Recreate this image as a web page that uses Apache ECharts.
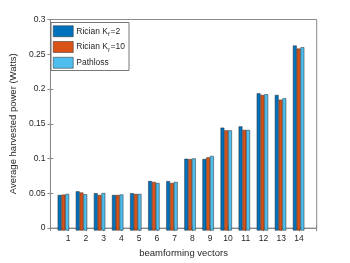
<!DOCTYPE html>
<html><head><meta charset="utf-8">
<script src="https://cdn.jsdelivr.net/npm/echarts@6/dist/echarts.min.js"></script>
<style>html,body{margin:0;padding:0;background:#fff}#c{width:350px;height:263px}</style>
</head><body><div id="c"></div>
<script>
var categories = ['1','2','3','4','5','6','7','8','9','10','11','12','13','14'];
var ricianK2  = [0.0505,0.0557,0.0530,0.0505,0.0530,0.0704,0.0702,0.1020,0.1017,0.1462,0.1480,0.1950,0.1927,0.2630];
var ricianK10 = [0.0510,0.0540,0.0505,0.0505,0.0520,0.0690,0.0675,0.1015,0.1040,0.1424,0.1430,0.1927,0.1860,0.2586];
var pathloss  = [0.0520,0.0515,0.0533,0.0512,0.0520,0.0675,0.0690,0.1025,0.1060,0.1424,0.1430,0.1937,0.1880,0.2605];
var yTicks = [0,0.05,0.1,0.15,0.2,0.25,0.3];

var font = 'Liberation Sans, Arial, Helvetica, sans-serif';
var axisCol = '#8a8a8a';
var txtCol = '#262626';
var chart = echarts.init(document.getElementById('c'), null, {renderer:'canvas'});
var gl = 45.3, gr = 350-316.7, gt = 19.5, gb = 263-230.5;
var band = (316.7-45.3)/15;
function barSeries(name, data, color){
  return {type:'bar', name:name, data:data, xAxisIndex:0, yAxisIndex:0,
    barWidth:3.8, barGap:'0%',
    itemStyle:{color:color, borderColor:'#2a2a2a', borderWidth:0.5},
    emphasis:{disabled:true}, animation:false};
}
var lbl = {a:{fontSize:8.5, color:txtCol, fontFamily:font, lineHeight:12}, s:{fontSize:6, color:txtCol, fontFamily:font, verticalAlign:'bottom', lineHeight:9, padding:[0,1,0,0]}};
chart.setOption({
  animation:false,
  textStyle:{fontFamily:font},
  legend:{show:true, orient:'vertical', left:51, top:22.5, itemWidth:20, itemHeight:11, itemGap:4,
    padding:[3,4,2,2], borderColor:'#555', borderWidth:0.8, backgroundColor:'#fff',
    icon:'rect',
    itemStyle:{borderColor:'#2a2a2a', borderWidth:0.5},
    textStyle:{fontSize:8.5, color:txtCol, fontFamily:font, padding:[0,0,0,-2], rich:lbl},
    formatter:function(n){
      if(n==='Rician K_f=2') return '{a|Rician K}{s|f}{a|=2}';
      if(n==='Rician K_f=10') return '{a|Rician K}{s|f}{a|=10}';
      return '{a|'+n+'}';
    },
    data:['Rician K_f=2','Rician K_f=10','Pathloss']},
  grid:[
    {left:gl+band/2, right:gr+band/2, top:gt, bottom:gb, containLabel:false},
    {left:gl, right:gr, top:gt, bottom:gb, show:true, borderColor:axisCol, borderWidth:1, containLabel:false}
  ],
  xAxis:[
    {type:'category', gridIndex:0, data:categories, boundaryGap:true, show:false},
    {type:'value', gridIndex:1, min:0, max:15, interval:1, position:'bottom',
      axisLine:{show:true, lineStyle:{color:axisCol}}, splitLine:{show:false},
      axisTick:{show:true, inside:true, length:3, lineStyle:{color:axisCol}},
      axisLabel:{show:true, margin:6, fontSize:8.5, color:txtCol, fontFamily:font,
        formatter:function(v){ return (v>=1 && v<=categories.length) ? categories[v-1] : ''; }},
      name:'beamforming vectors', nameLocation:'middle', nameGap:18,
      nameTextStyle:{fontSize:9.5, color:txtCol, fontFamily:font}},
    {type:'value', gridIndex:1, min:0, max:15, interval:1, position:'top',
      axisLine:{show:true, lineStyle:{color:axisCol}}, splitLine:{show:false},
      axisTick:{show:true, inside:true, length:3, lineStyle:{color:axisCol}},
      axisLabel:{show:false}}
  ],
  yAxis:[
    {type:'value', gridIndex:0, min:0, max:0.3, interval:0.05, show:false},
    {type:'value', gridIndex:1, min:0, max:0.3, interval:0.05, position:'left',
      axisLine:{show:true, lineStyle:{color:axisCol}}, splitLine:{show:false},
      axisTick:{show:true, inside:true, length:3, lineStyle:{color:axisCol}},
      axisLabel:{show:true, margin:5, fontSize:8.5, color:txtCol, fontFamily:font,
        formatter:function(v){ var i=yTicks.findIndex(function(t){return Math.abs(t-v)<1e-9;}); return i>=0? String(yTicks[i]):''; }},
      name:'Average harvested power (Watts)', nameLocation:'middle', nameGap:28,
      nameTextStyle:{fontSize:9.5, color:txtCol, fontFamily:font}},
    {type:'value', gridIndex:1, min:0, max:0.3, interval:0.05, position:'right',
      axisLine:{show:true, lineStyle:{color:axisCol}}, splitLine:{show:false},
      axisTick:{show:true, inside:true, length:3, lineStyle:{color:axisCol}},
      axisLabel:{show:false}}
  ],
  series:[
    barSeries('Rician K_f=2', ricianK2, '#0072BD'),
    barSeries('Rician K_f=10', ricianK10, '#D95319'),
    barSeries('Pathloss', pathloss, '#4DBEEE')
  ]
});
</script></body></html>
